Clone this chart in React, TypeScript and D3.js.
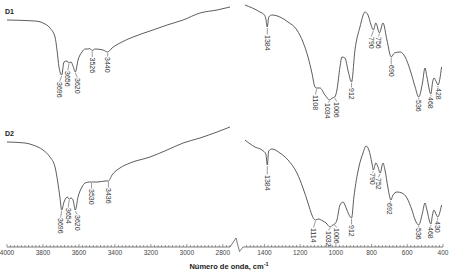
import React from "react";
import * as d3 from "d3";

// ---------- DATA ----------
// D1 spectrum: wavenumber (cm-1) and transmittance (a.u.)
const d1Wavenumber = [
  4000, 3844, 3800, 3761, 3733, 3722, 3711, 3696, 3683, 3666, 3656, 3644, 3633, 3620, 3605, 3583, 3566, 3550,
  3540, 3526, 3511, 3466, 3440, 3416, 3372, 3299, 3205, 3110, 3021, 2927, 2832, 2760,
  1509, 1425, 1400, 1392, 1384, 1376, 1358, 1313, 1268, 1218, 1184, 1156, 1134, 1117, 1108, 1089, 1061, 1034,
  1021, 1006, 994, 977, 966, 949, 930, 912, 893, 865, 837, 820, 803, 790, 776, 756, 736, 714, 690, 672, 640,
  612, 584, 556, 536, 515, 501, 490, 468, 459, 451, 437, 428, 408,
];
const d1Transmittance = [
  80, 79, 77, 72, 63, 50, 33, 25, 38, 39, 37, 38, 34, 28, 40, 48, 51, 51,
  51.5, 49.5, 51, 50, 48, 52, 57, 63, 69, 75, 80, 87, 90, 93,
  95, 88, 85, 81, 73, 83, 85, 83, 78, 70, 58, 43, 27, 13, 12, 12, 5, 0,
  2, 3, 10, 33, 43, 42, 28, 18, 50, 73, 88, 85, 75, 70, 77, 67, 77, 60, 43, 47, 48,
  43, 30, 13, 3, 17, 32, 23, 6, 17, 22, 18, 15, 33,
];
const d1Peaks = [3696, 3656, 3620, 3526, 3440, 1384, 1108, 1034, 1006, 912, 790, 756, 690, 536, 468, 428];

// D2 spectrum
const d2Wavenumber = [
  4000, 3900, 3856, 3800, 3761, 3733, 3717, 3706, 3696, 3683, 3672, 3665, 3654, 3644, 3633, 3620, 3605, 3583,
  3566, 3539, 3530, 3494, 3455, 3436, 3416, 3372, 3316, 3205, 3110, 3021, 2927, 2832, 2760,
  1509, 1453, 1414, 1392, 1384, 1376, 1358, 1313, 1268, 1218, 1184, 1156, 1134, 1123, 1114, 1100, 1072, 1055,
  1032, 1017, 1006, 994, 977, 960, 949, 938, 912, 899, 871, 848, 831, 815, 798, 790, 776, 764, 752, 736, 725,
  708, 692, 680, 658, 630, 602, 574, 556, 536, 515, 501, 490, 468, 459, 451, 437, 430, 408,
];
const d2Transmittance = [
  90, 89, 87, 82, 75, 65, 49, 35, 22, 30, 34, 35, 33, 34, 32, 22, 35, 45,
  49, 50, 50, 50, 51, 51, 57, 64, 69, 75, 82, 89, 94, 100, 105,
  92, 85, 82, 78, 67, 81, 83, 79, 72, 59, 44, 29, 17, 13, 12, 13, 11, 9,
  5, 7, 8, 12, 27, 30, 27, 22, 14, 35, 65, 79, 86, 82, 69, 62, 69, 65, 59, 69, 62,
  44, 32, 37, 40, 39, 34, 22, 12, 7, 19, 29, 22, 8, 17, 22, 17, 15, 27,
];
const d2Peaks = [3696, 3654, 3620, 3530, 3436, 1384, 1114, 1032, 1006, 912, 790, 752, 692, 536, 468, 430];

const panelNames = ["D1", "D2"];
const leftTicks = [4000, 3800, 3600, 3400, 3200, 3000, 2800];
const rightTicks = [1400, 1200, 1000, 800, 600, 400];
const axisTitle = "Número de onda, cm";

// ---------- LAYOUT ----------
const W = 461;
const H = 274;
const xLeft = d3.scaleLinear().domain([4000, 2760]).range([7, 230]);
const xRight = d3.scaleLinear().domain([1520, 400]).range([243, 443]);
const BREAK = 2000;
const xOf = (w: number) => (w > BREAK ? xLeft(w) : xRight(w));
const yScales = [
  d3.scaleLinear().domain([100, 0]).range([0, 100]),
  d3.scaleLinear().domain([110, 0]).range([122, 232]),
];
const axisY = 247;

// label placement tweaks: [dx, gap]
const labelAdj: Record<string, [number, number]> = {
  "D1-3696": [-2, 7], "D1-3656": [-1, 8], "D1-3620": [2, 6], "D1-3526": [0, 7], "D1-3440": [0, 5],
  "D1-1384": [0, 8], "D1-1108": [-1, 7], "D1-1034": [-2, 3], "D1-1006": [2, 5], "D1-912": [0, 6],
  "D1-790": [-2, 7], "D1-756": [-1, 4], "D1-690": [0, 8], "D1-536": [0, 3], "D1-468": [0, 3], "D1-428": [0, 3],
  "D2-3696": [-1, 8], "D2-3654": [-1, 9], "D2-3620": [2, 5], "D2-3530": [0, 7], "D2-3436": [0, 7],
  "D2-1384": [0, 10], "D2-1114": [-2, 8], "D2-1032": [-2, 4], "D2-1006": [2, 4], "D2-912": [0, 7],
  "D2-790": [-1, 3], "D2-752": [-2, 5], "D2-692": [-1, 3], "D2-536": [0, 3], "D2-468": [0, 3], "D2-430": [0, 4],
};

const FONT = "'Liberation Sans', Arial, sans-serif";

function interp(ws: number[], ts: number[], w: number) {
  for (let i = 0; i < ws.length - 1; i++) {
    const a = ws[i], b = ws[i + 1];
    if ((w <= a && w >= b)) {
      const t = (a - w) / (a - b || 1);
      return ts[i] + t * (ts[i + 1] - ts[i]);
    }
  }
  return ts[ts.length - 1];
}

function Panel({ idx, ws, ts, peaks }: { idx: number; ws: number[]; ts: number[]; peaks: number[] }) {
  const y = yScales[idx];
  const pts = ws.map((w, i) => ({ w, t: ts[i] }));
  const left = pts.filter((p) => p.w > BREAK);
  const right = pts.filter((p) => p.w <= BREAK);
  const line = d3
    .line<{ w: number; t: number }>()
    .x((p) => xOf(p.w))
    .y((p) => y(p.t))
    .curve(d3.curveMonotoneX);
  const name = panelNames[idx];
  return (
    <g>
      <text x={5} y={idx === 0 ? 14 : 136} fontSize={7} fontWeight="bold" fill="#222" fontFamily={FONT}>
        {name}
      </text>
      <path d={line(left) || ""} fill="none" stroke="#333" strokeWidth={0.8} />
      <path d={line(right) || ""} fill="none" stroke="#333" strokeWidth={0.8} />
      {peaks.map((p) => {
        const adj = labelAdj[`${name}-${p}`] || [0, 6];
        const px = xOf(p);
        const py = y(interp(ws, ts, p));
        const lx = px + adj[0];
        const ly = py + adj[1];
        return (
          <g key={p}>
            <line x1={px} y1={py + 1} x2={lx} y2={ly - 0.5} stroke="#556" strokeWidth={0.6} />
            <text
              transform={`translate(${lx},${ly}) rotate(90)`}
              fontSize={7}
              fill="#333"
              fontFamily={FONT}
              dominantBaseline="central"
            >
              {p}
            </text>
          </g>
        );
      })}
    </g>
  );
}

function Axis() {
  const leftMinor = d3.range(4000, 2760 - 1, -20);
  const rightMinor = d3.range(1500, 400 - 1, -20);
  return (
    <g>
      <line x1={xLeft(4000)} x2={230} y1={axisY} y2={axisY} stroke="#444" strokeWidth={0.7} />
      <polyline points={`230,${axisY} 236,238 239.5,251.5 243,${axisY}`} fill="none" stroke="#444" strokeWidth={0.7} />
      <line x1={243} x2={xRight(400)} y1={axisY} y2={axisY} stroke="#444" strokeWidth={0.7} />
      {leftMinor.map((w) => (
        <line key={"l" + w} x1={xLeft(w)} x2={xLeft(w)} y1={axisY} y2={axisY - (w % 200 === 0 ? 3 : 2)} stroke="#555" strokeWidth={0.6} />
      ))}
      {rightMinor.map((w) => (
        <line key={"r" + w} x1={xRight(w)} x2={xRight(w)} y1={axisY} y2={axisY - (w % 200 === 0 ? 3 : 2)} stroke="#555" strokeWidth={0.6} />
      ))}
      {leftTicks.map((w) => (
        <text key={"tl" + w} x={xLeft(w)} y={255} fontSize={6.5} textAnchor="middle" fill="#444" fontFamily={FONT}>
          {w}
        </text>
      ))}
      {rightTicks.map((w) => (
        <text key={"tr" + w} x={xRight(w)} y={255} fontSize={6.5} textAnchor="middle" fill="#444" fontFamily={FONT}>
          {w}
        </text>
      ))}
      <text x={229} y={269} fontSize={7.5} fontWeight="bold" textAnchor="middle" fill="#222" fontFamily={FONT}>
        {axisTitle}
        <tspan dy={-3} fontSize={5.5}>-1</tspan>
      </text>
    </g>
  );
}

export default function App() {
  return (
    <svg
      width={W}
      height={H}
      style={{ position: "absolute", left: 0, top: 0, background: "#fff" }}
      xmlns="http://www.w3.org/2000/svg"
    >
      <rect width={W} height={H} fill="#fff" />
      <Panel idx={0} ws={d1Wavenumber} ts={d1Transmittance} peaks={d1Peaks} />
      <Panel idx={1} ws={d2Wavenumber} ts={d2Transmittance} peaks={d2Peaks} />
      <Axis />
    </svg>
  );
}
